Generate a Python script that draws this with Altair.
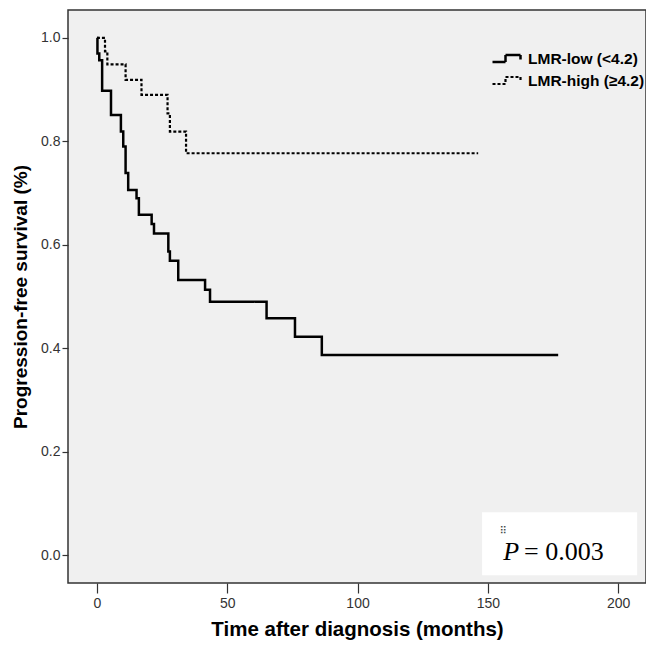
import altair as alt
import pandas as pd

# LMR-low (solid) Kaplan-Meier steps
low_time = [0, 0.2, 0.9, 2.0, 5.4, 9.2, 10.1, 11.0, 12.0, 15.2, 16.1, 21.0, 21.9,
            27.4, 28.0, 31.2, 41.5, 43.4, 65.1, 76.0, 86.3, 177.0]
low_surv = [1.0, 0.970, 0.957, 0.898, 0.851, 0.819, 0.790, 0.739, 0.706, 0.690,
            0.658, 0.640, 0.622, 0.587, 0.569, 0.532, 0.513, 0.490, 0.458, 0.422,
            0.387, 0.387]

# LMR-high (dashed) Kaplan-Meier steps
high_time = [0, 3.1, 4.0, 11.0, 17.1, 27.1, 28.0, 34.2, 146.3]
high_surv = [1.0, 0.974, 0.949, 0.919, 0.890, 0.854, 0.819, 0.777, 0.777]

groups = ["LMR-low (<4.2)", "LMR-high (\u22654.2)"]
x_ticks = [0, 50, 100, 150, 200]
y_ticks = [0.0, 0.2, 0.4, 0.6, 0.8, 1.0]

# annotation box / p-value (data coordinates)
box = pd.DataFrame({"x": [147.8], "x2": [207.3], "y": [-0.039], "y2": [0.083]})
p_italic = pd.DataFrame({"x": [155.9], "y": [-0.0097], "t": ["P"]})
p_rest = pd.DataFrame({"x": [163.9], "y": [-0.0097], "t": ["= 0.003"]})
p_dots = pd.DataFrame({"x": [154.5], "y": [0.046], "t": ["\u283f"]})

df = pd.concat([
    pd.DataFrame({"time": low_time, "surv": low_surv, "group": groups[0], "order": range(len(low_time))}),
    pd.DataFrame({"time": high_time, "surv": high_surv, "group": groups[1], "order": range(len(high_time))}),
])

xs = alt.Scale(domain=[-11.1, 210.7], nice=False, zero=False)
ys = alt.Scale(domain=[-0.054, 1.054], nice=False, zero=False)

lines = alt.Chart(df).mark_line(interpolate="step-after", color="black").encode(
    x=alt.X("time:Q", scale=xs, title="Time after diagnosis (months)",
            axis=alt.Axis(values=x_ticks, format="d", titleFontSize=20.5, titlePadding=9)),
    y=alt.Y("surv:Q", scale=ys, title="Progression-free survival (%)",
            axis=alt.Axis(values=y_ticks, format=".1f", titleFontSize=19, titlePadding=10)),
    order="order:Q",
    strokeDash=alt.StrokeDash("group:N",
        scale=alt.Scale(domain=groups, range=[[1, 0], [3, 2]]),
        legend=alt.Legend(title=None, orient="none", legendX=429, legendY=37,
                          symbolType="M-1.6,0.35H-0.3V-0.35H1.2V0.1",
                          symbolSize=400, symbolStrokeWidth=2.2,
                          symbolStrokeColor="black", symbolFillColor="transparent",
                          labelFont="Liberation Sans", labelFontWeight="bold",
                          labelFontSize=15.5, labelColor="black", labelOffset=8,
                          rowPadding=2, padding=0)),
    strokeWidth=alt.StrokeWidth("group:N",
        scale=alt.Scale(domain=groups, range=[2.5, 2.2]), legend=None),
)

rect = alt.Chart(box).mark_rect(fill="white").encode(
    x=alt.X("x:Q", scale=xs), x2="x2:Q", y=alt.Y("y:Q", scale=ys), y2="y2:Q")

txt_p = alt.Chart(p_italic).mark_text(font="Liberation Serif", fontStyle="italic",
        fontSize=26, align="left", baseline="alphabetic", color="black").encode(
    x=alt.X("x:Q", scale=xs), y=alt.Y("y:Q", scale=ys), text="t:N")
txt_r = alt.Chart(p_rest).mark_text(font="Liberation Serif",
        fontSize=26, align="left", baseline="alphabetic", color="black").encode(
    x=alt.X("x:Q", scale=xs), y=alt.Y("y:Q", scale=ys), text="t:N")
txt_d = alt.Chart(p_dots).mark_text(font="DejaVu Sans",
        fontSize=10, align="left", baseline="middle", color="#444").encode(
    x=alt.X("x:Q", scale=xs), y=alt.Y("y:Q", scale=ys), text="t:N")

chart = alt.layer(rect, lines, txt_p, txt_r, txt_d).properties(
    width=578, height=573,
    autosize=alt.AutoSizeParams(type="none"),
    padding={"left": 60, "top": 2, "right": 0, "bottom": 62},
).configure_view(
    fill="#f0f0f0", stroke="#333333", strokeWidth=1.5
).configure_axis(
    grid=False, domain=False, tickColor="#333333", tickWidth=1.2,
    labelFont="Liberation Sans", labelFontSize=14, labelColor="#333333",
    titleFont="Liberation Sans", titleFontWeight="bold",
    titleColor="black",
).configure_axisX(
    tickSize=10, labelPadding=3
).configure_axisY(
    tickSize=6, labelPadding=2
)

chart.save("out.html", embed_options={"renderer": "svg", "actions": False})
